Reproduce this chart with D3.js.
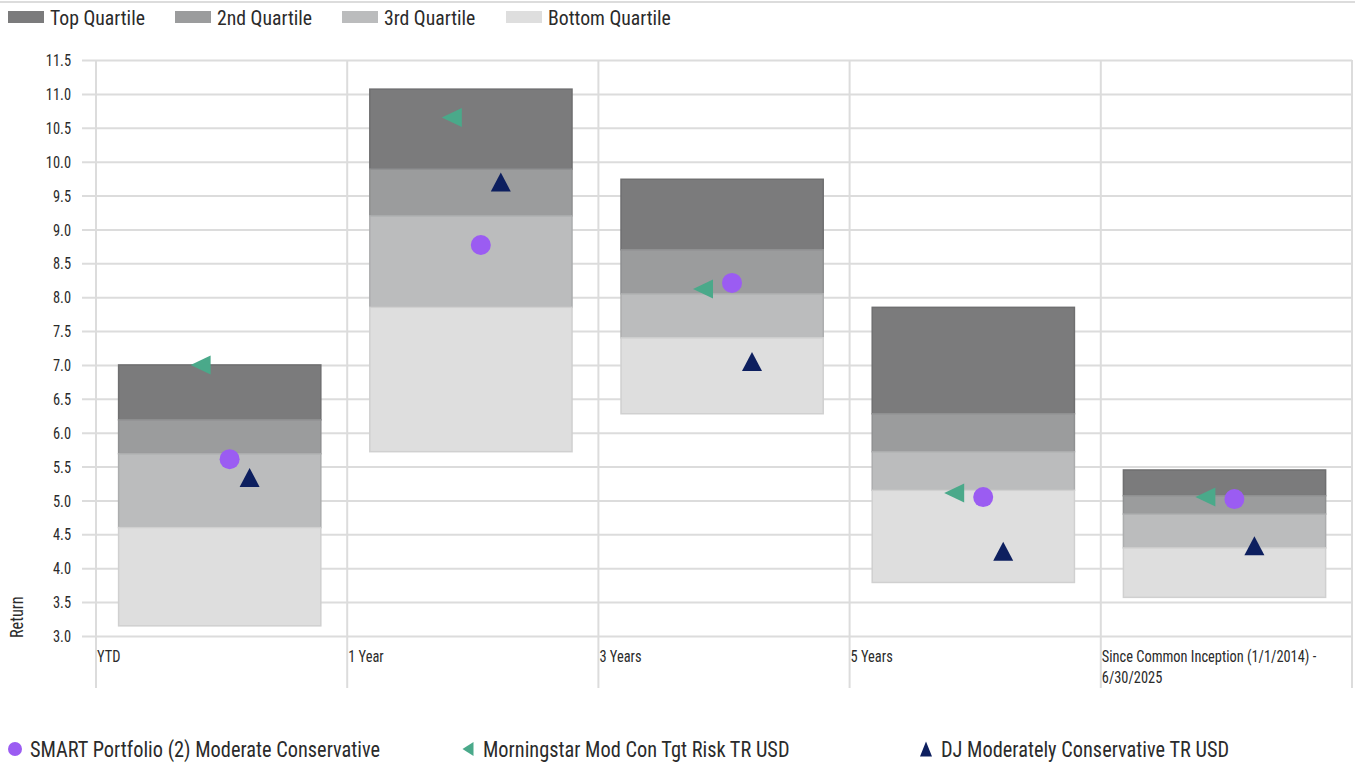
<!DOCTYPE html>
<html>
<head>
<meta charset="utf-8">
<script src="https://cdn.jsdelivr.net/npm/d3@7"></script>
<style>
  html, body { margin: 0; padding: 0; background: #fff; }
  svg { display: block; font-family: "Liberation Sans Narrow", "Roboto Condensed", "DejaVu Sans Condensed", "Liberation Sans", sans-serif; }
</style>
</head>
<body>
<svg id="chart" width="1355" height="766"></svg>
<script>
// Periods shown on the x axis
const periods = ["YTD", "1 Year", "3 Years", "5 Years", "Since Common Inception (1/1/2014) - 6/30/2025"];

// Quartile breakpoints per period: [bottom, 3rd/bottom, 2nd/3rd, top/2nd, top]
const quartileBottom = [3.15, 5.72, 6.28, 3.79, 3.57];
const quartile3Low   = [4.60, 7.85, 7.40, 5.15, 4.30];
const quartile2Low   = [5.69, 9.20, 8.05, 5.72, 4.80];
const quartileTopLow = [6.19, 9.89, 8.70, 6.28, 5.07];
const quartileTop    = [7.00, 11.07, 9.74, 7.85, 5.45];

const quartileNames = ["Top Quartile", "2nd Quartile", "3rd Quartile", "Bottom Quartile"];

// Return of each series per period
const smartPortfolio = [5.61, 8.77, 8.21, 5.05, 5.02];
const morningstarIdx = [7.00, 10.65, 8.12, 5.11, 5.05];
const djIdx          = [5.34, 9.70, 7.05, 4.25, 4.33];

const seriesNames = ["SMART Portfolio (2) Moderate Conservative", "Morningstar Mod Con Tgt Risk TR USD", "DJ Moderately Conservative TR USD"];

// Y axis ticks
const yTicks = [3.0, 3.5, 4.0, 4.5, 5.0, 5.5, 6.0, 6.5, 7.0, 7.5, 8.0, 8.5, 9.0, 9.5, 10.0, 10.5, 11.0, 11.5];

// ---- styling ----
const quartileFill   = ["#7b7b7c", "#9b9c9d", "#bbbcbd", "#dedede"];
const quartileStroke = ["#6f6f70", "#8f9091", "#acadae", "#d0d0d0"];
const seriesColor = ["#9b5cf2", "#4aa98a", "#0d1f5f"];
const gridColor = "#dcdcdc";
const textColor = "#2b2b2b";
const narrow = 0.9; // horizontal squeeze for a condensed look

const svg = d3.select("#chart");
const plot = { left: 96, right: 1352, top: 60, bottom: 636 };

const y = d3.scaleLinear().domain([3, 11.5]).range([plot.bottom, plot.top]);
const x = d3.scaleBand().domain(periods).range([plot.left, plot.right]);
const bw = x.bandwidth();
const barInset = bw * 0.09, barWidth = bw * 0.805;

// place a text element at (tx, ty) with condensed width
const placeText = (sel, tx, ty, sx = narrow) =>
  sel.attr("x", 0).attr("y", 0).attr("transform", (d, i) =>
    `translate(${typeof tx === "function" ? tx(d, i) : tx},${typeof ty === "function" ? ty(d, i) : ty}) scale(${sx},1)`);

// top rule
svg.append("line").attr("x1", 0).attr("x2", 1355).attr("y1", 2).attr("y2", 2)
  .attr("stroke", gridColor).attr("stroke-width", 2);

// horizontal grid lines
const gy = svg.append("g").attr("transform", `translate(${plot.right},0)`);
gy.call(d3.axisLeft(y).tickValues(yTicks).tickSize(plot.right - 82).tickFormat(""));
gy.select(".domain").remove();
gy.selectAll("line").attr("stroke", gridColor).attr("stroke-width", 2);

// y tick labels
const gyl = svg.append("g").attr("transform", `translate(71,0)`);
gyl.call(d3.axisLeft(y).tickValues(yTicks).tickFormat(d3.format(".1f")).tickSize(0).tickPadding(0));
gyl.attr("font-family", null).attr("font-size", null);
gyl.select(".domain").remove();
gyl.selectAll("text").attr("x", 0).attr("font-size", 16).attr("fill", textColor)
  .attr("dy", "0.35em").attr("transform", `scale(${narrow},1)`);

// vertical grid lines at band edges
const edges = periods.map(p => x(p)).concat([plot.right]);
svg.append("g").selectAll("line").data(edges).join("line")
  .attr("x1", d => d).attr("x2", d => d)
  .attr("y1", plot.top).attr("y2", 688)
  .attr("stroke", gridColor).attr("stroke-width", 2);

// x labels (long label wraps after the dash)
const xl = svg.append("g").selectAll("text").data(periods).join("text")
  .attr("font-size", 16).attr("fill", textColor);
placeText(xl, d => x(d) + 1, 662);
xl.each(function(d) {
  const k = d.indexOf(" - ");
  const parts = k >= 0 ? [d.slice(0, k + 2), d.slice(k + 3)] : [d];
  d3.select(this).selectAll("tspan").data(parts).join("tspan")
    .attr("x", 0).attr("dy", (t, i) => i === 0 ? 0 : 21).text(t => t);
});

// y axis title
svg.append("text").attr("transform", `translate(23,638) rotate(-90) scale(${narrow},1)`)
  .attr("text-anchor", "start").attr("font-size", 18).attr("fill", textColor).text("Return");

// stacked quartile boxes
const segs = [];
periods.forEach((per, i) => {
  const bounds = [quartileTop[i], quartileTopLow[i], quartile2Low[i], quartile3Low[i], quartileBottom[i]];
  for (let q = 0; q < 4; q++) segs.push({ per, q, hi: bounds[q], lo: bounds[q + 1] });
});
svg.append("g").selectAll("rect").data(segs).join("rect")
  .attr("x", d => x(d.per) + barInset).attr("width", barWidth)
  .attr("y", d => y(d.hi)).attr("height", d => y(d.lo) - y(d.hi))
  .attr("fill", d => quartileFill[d.q]).attr("stroke", d => quartileStroke[d.q]).attr("stroke-width", 1.5);

// marker shapes
const circlePath = r => `M${r},0A${r},${r} 0 1,1 ${-r},0A${r},${r} 0 1,1 ${r},0Z`;
const leftTri = (w, h) => `M${-w/2},0L${w/2},${-h/2}L${w/2},${h/2}Z`;
const upTri = (w, h) => `M0,${-h/2}L${w/2},${h/2}L${-w/2},${h/2}Z`;
const markerPath = [circlePath(10), leftTri(20, 19), upTri(20, 19)];
const markerOffset = [8, -21, 28];
const seriesVals = [smartPortfolio, morningstarIdx, djIdx];

const cx = per => x(per) + bw / 2;
seriesVals.forEach((vals, s) => {
  svg.append("g").selectAll("path").data(periods).join("path")
    .attr("d", markerPath[s])
    .attr("transform", (per, i) => `translate(${cx(per) + markerOffset[s]},${y(vals[i])})`)
    .attr("fill", seriesColor[s]);
});

// top legend
const topLegX = [8, 175, 342, 506];
const tl = svg.append("g").selectAll("g").data(quartileNames).join("g")
  .attr("transform", (d, i) => `translate(${topLegX[i]},0)`);
tl.append("rect").attr("x", 0).attr("y", 11).attr("width", 36).attr("height", 12)
  .attr("fill", (d, i) => quartileFill[i]);
placeText(tl.append("text").attr("font-size", 21).attr("fill", textColor).text(d => d), 42, 25, 0.94);

// bottom legend
const botLegX = [15, 468, 926];
const bl = svg.append("g").selectAll("g").data(seriesNames).join("g")
  .attr("transform", (d, i) => `translate(${botLegX[i]},749)`);
const legendMark = [circlePath(7), leftTri(11, 14), upTri(12, 15)];
bl.append("path").attr("d", (d, i) => legendMark[i]).attr("fill", (d, i) => seriesColor[i]);
placeText(bl.append("text").attr("font-size", 22).attr("fill", textColor).text(d => d), 15, 8, 0.925);
</script>
</body>
</html>
